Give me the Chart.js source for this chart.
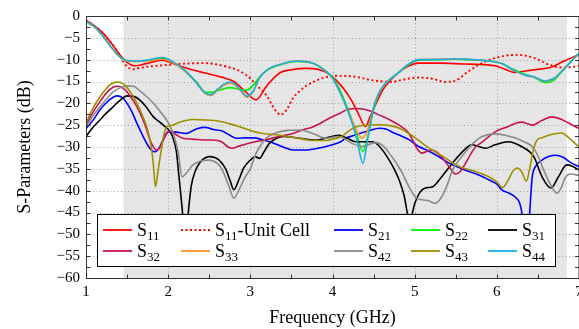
<!DOCTYPE html>
<html><head><meta charset="utf-8">
<script src="https://cdn.jsdelivr.net/npm/chart.js@4.4.0/dist/chart.umd.min.js"></script>
<style>html,body{margin:0;padding:0;background:#fff}canvas{display:block}</style>
</head><body>
<canvas id="c" width="579" height="329"></canvas>
<script>
/* ---------- data (frequency GHz, dB) ---------- */
const s11 = [[1.0,-1.0],[1.1,-2.2],[1.2,-3.8],[1.3,-6.0],[1.4,-8.6],[1.5,-10.6],[1.6,-11.4],[1.73,-10.9],[1.93,-10.1],[2.05,-10.8],[2.2,-11.8],[2.35,-12.6],[2.5,-13.3],[2.65,-14.0],[2.8,-15.0],[2.95,-17.5],[3.07,-19.2],[3.2,-16.0],[3.36,-13.0],[3.5,-12.3],[3.68,-12.0],[3.84,-12.3],[3.95,-13.2],[4.05,-14.8],[4.15,-17.0],[4.24,-19.6],[4.33,-23.0],[4.4,-25.3],[4.46,-23.0],[4.52,-20.5],[4.61,-17.0],[4.7,-14.8],[4.8,-13.0],[4.92,-11.5],[5.05,-10.8],[5.3,-10.8],[5.6,-11.0],[5.8,-11.1],[6.0,-11.5],[6.1,-12.2],[6.22,-12.9],[6.35,-12.6],[6.5,-12.2],[6.65,-11.8],[6.8,-10.5],[7.0,-8.8]];
const s11Unit = [[1.0,-1.0],[1.2,-3.8],[1.4,-8.6],[1.48,-11.2],[1.57,-12.2],[1.65,-11.9],[1.8,-11.5],[2.0,-11.2],[2.2,-10.9],[2.45,-10.8],[2.62,-11.2],[2.75,-11.8],[2.87,-12.6],[3.0,-14.3],[3.1,-16.3],[3.2,-18.3],[3.3,-21.5],[3.37,-22.6],[3.44,-21.5],[3.52,-18.8],[3.6,-17.2],[3.68,-16.0],[3.8,-14.8],[3.9,-14.1],[4.04,-13.7],[4.28,-13.9],[4.45,-14.6],[4.61,-15.0],[4.72,-15.1],[4.85,-14.6],[5.05,-14.1],[5.2,-14.3],[5.38,-15.1],[5.5,-14.8],[5.66,-12.6],[5.8,-11.0],[5.95,-9.8],[6.1,-9.1],[6.25,-8.9],[6.4,-9.3],[6.5,-10.0],[6.63,-11.1],[6.78,-11.8],[6.9,-11.7],[7.0,-11.4]];
const s21 = [[1.0,-25.8],[1.1,-23.5],[1.17,-21.5],[1.25,-19.8],[1.33,-18.6],[1.38,-18.3],[1.45,-18.8],[1.5,-20.0],[1.56,-22.0],[1.62,-24.6],[1.68,-27.0],[1.74,-29.2],[1.8,-30.8],[1.84,-31.1],[1.9,-29.9],[1.95,-27.8],[2.0,-26.5],[2.1,-26.6],[2.22,-26.9],[2.35,-25.8],[2.45,-25.5],[2.55,-26.0],[2.65,-26.3],[2.75,-27.3],[2.83,-28.0],[2.95,-27.9],[3.05,-27.9],[3.15,-28.4],[3.27,-29.0],[3.4,-30.0],[3.52,-30.7],[3.65,-30.7],[3.76,-30.5],[3.9,-30.0],[4.0,-29.5],[4.1,-28.8],[4.16,-28.0],[4.25,-27.4],[4.33,-26.9],[4.45,-26.2],[4.57,-25.7],[4.65,-25.9],[4.75,-26.8],[4.85,-27.6],[4.93,-28.3],[5.05,-29.9],[5.17,-30.9],[5.3,-32.3],[5.42,-33.7],[5.55,-34.8],[5.66,-35.6],[5.78,-36.4],[5.9,-37.5],[6.0,-38.5],[6.06,-39.8],[6.15,-40.6],[6.22,-41.4],[6.28,-43.0],[6.32,-47.0],[6.36,-56.0],[6.4,-45.0],[6.43,-37.0],[6.47,-34.5],[6.55,-33.0],[6.63,-32.2],[6.72,-31.9],[6.8,-32.3],[6.91,-33.7],[7.0,-34.5]];
const s22 = [[1.0,-1.3],[1.1,-2.5],[1.2,-4.5],[1.3,-7.0],[1.4,-9.2],[1.5,-10.3],[1.6,-10.4],[1.75,-10.2],[1.93,-9.6],[2.05,-10.5],[2.2,-12.5],[2.34,-15.0],[2.46,-17.5],[2.55,-17.4],[2.65,-16.8],[2.76,-16.4],[2.86,-16.8],[2.95,-17.0],[3.03,-16.0],[3.11,-14.0],[3.2,-12.5],[3.36,-11.2],[3.56,-10.4],[3.76,-10.8],[3.92,-12.6],[4.0,-14.0],[4.08,-16.5],[4.16,-20.0],[4.24,-24.0],[4.3,-27.5],[4.37,-31.0],[4.43,-27.5],[4.5,-21.5],[4.56,-18.0],[4.62,-16.0],[4.7,-14.5],[4.8,-13.0],[4.9,-11.5],[5.05,-10.1],[5.25,-10.0],[5.5,-9.9],[5.7,-10.1],[5.9,-10.3],[6.06,-10.9],[6.2,-12.2],[6.35,-13.4],[6.45,-14.0],[6.6,-15.3],[6.7,-14.6],[6.8,-12.5],[6.9,-10.5],[7.0,-8.5]];
const s31 = [[1.0,-27.6],[1.08,-25.6],[1.17,-23.8],[1.25,-22.2],[1.33,-20.8],[1.42,-19.2],[1.5,-18.3],[1.58,-18.4],[1.66,-19.3],[1.74,-21.0],[1.82,-23.1],[1.89,-24.2],[1.94,-25.0],[2.0,-26.0],[2.05,-27.5],[2.1,-31.0],[2.13,-36.5],[2.17,-44.0],[2.21,-52.0],[2.25,-44.0],[2.28,-39.0],[2.33,-35.5],[2.38,-33.7],[2.5,-32.2],[2.62,-33.0],[2.7,-35.0],[2.75,-37.5],[2.8,-39.8],[2.86,-37.5],[2.92,-34.8],[3.0,-33.0],[3.06,-32.2],[3.11,-32.6],[3.17,-31.0],[3.23,-29.2],[3.32,-28.0],[3.4,-27.6],[3.6,-28.0],[3.8,-28.4],[3.95,-27.8],[4.08,-27.3],[4.18,-28.0],[4.28,-28.8],[4.4,-28.8],[4.49,-28.8],[4.6,-30.5],[4.69,-33.0],[4.75,-35.0],[4.81,-37.5],[4.87,-41.0],[4.94,-47.0],[5.0,-43.0],[5.06,-40.5],[5.13,-39.4],[5.22,-39.1],[5.33,-36.8],[5.46,-33.7],[5.58,-31.1],[5.7,-29.5],[5.86,-30.3],[5.98,-29.5],[6.14,-28.8],[6.3,-29.9],[6.45,-32.2],[6.55,-36.8],[6.66,-39.4],[6.75,-36.8],[6.85,-34.1],[6.92,-34.4],[7.0,-35.3]];
const s32 = [[1.0,-25.0],[1.08,-22.2],[1.17,-19.6],[1.25,-17.6],[1.33,-16.3],[1.39,-16.1],[1.45,-16.5],[1.5,-17.4],[1.58,-19.5],[1.66,-22.3],[1.72,-25.0],[1.78,-28.4],[1.84,-30.5],[1.87,-30.7],[1.92,-29.3],[1.97,-27.3],[2.02,-26.4],[2.1,-27.2],[2.18,-28.0],[2.3,-28.2],[2.42,-28.4],[2.55,-28.4],[2.65,-28.8],[2.73,-30.0],[2.78,-30.3],[2.86,-29.8],[2.95,-29.3],[3.06,-28.8],[3.2,-28.3],[3.35,-27.6],[3.52,-26.9],[3.65,-26.0],[3.76,-25.4],[3.86,-24.5],[3.96,-23.4],[4.08,-22.4],[4.2,-21.3],[4.3,-21.2],[4.45,-21.7],[4.57,-22.7],[4.7,-23.8],[4.81,-25.0],[4.92,-26.6],[4.97,-28.2],[5.03,-30.4],[5.09,-31.4],[5.2,-30.7],[5.27,-31.2],[5.35,-32.8],[5.43,-34.8],[5.5,-36.2],[5.56,-35.5],[5.62,-33.7],[5.68,-31.7],[5.74,-30.0],[5.82,-28.9],[5.9,-27.6],[6.0,-26.3],[6.14,-25.3],[6.24,-24.5],[6.3,-24.3],[6.38,-24.7],[6.43,-25.0],[6.55,-23.9],[6.67,-23.1],[6.8,-23.8],[6.95,-25.3],[7.0,-25.7]];
const s33 = [[1.0,-1.3],[1.1,-2.5],[1.2,-4.5],[1.3,-7.0],[1.4,-9.2],[1.5,-10.3],[1.6,-10.4],[1.75,-10.3],[1.93,-9.9],[2.05,-10.6],[2.2,-12.6],[2.34,-15.3],[2.45,-17.8],[2.52,-18.2],[2.6,-17.0],[2.68,-15.8],[2.76,-15.4],[2.85,-16.4],[2.96,-18.6],[3.04,-17.2],[3.11,-14.2],[3.2,-12.4],[3.36,-11.1],[3.56,-10.3],[3.76,-10.8],[3.92,-12.7],[4.0,-14.3],[4.08,-17.0],[4.16,-20.5],[4.24,-24.0],[4.3,-26.5],[4.36,-28.0],[4.42,-26.5],[4.5,-21.0],[4.56,-17.8],[4.62,-16.0],[4.7,-14.5],[4.8,-13.0],[4.9,-11.4],[5.05,-10.0],[5.25,-9.9],[5.5,-9.8],[5.7,-10.0],[5.9,-10.3],[6.06,-10.9],[6.2,-12.4],[6.35,-13.6],[6.45,-14.0],[6.6,-15.0],[6.7,-14.3],[6.8,-12.5],[6.9,-10.5],[7.0,-8.6]];
const s42 = [[1.0,-25.4],[1.08,-23.0],[1.17,-20.8],[1.25,-19.0],[1.33,-17.4],[1.42,-16.4],[1.5,-16.0],[1.58,-16.1],[1.66,-17.2],[1.74,-18.5],[1.82,-20.0],[1.9,-21.8],[1.98,-23.8],[2.03,-25.5],[2.07,-27.5],[2.12,-31.0],[2.17,-36.8],[2.22,-36.0],[2.3,-34.1],[2.4,-33.2],[2.5,-33.0],[2.6,-33.8],[2.66,-35.3],[2.73,-38.5],[2.8,-41.7],[2.87,-39.5],[2.94,-36.8],[3.0,-35.0],[3.07,-31.4],[3.13,-29.5],[3.19,-28.0],[3.32,-26.7],[3.45,-26.2],[3.6,-26.1],[3.76,-26.9],[3.92,-28.0],[4.08,-27.6],[4.24,-29.2],[4.36,-29.9],[4.53,-29.0],[4.62,-29.8],[4.69,-31.4],[4.77,-33.5],[4.85,-36.0],[4.93,-39.1],[5.01,-41.5],[5.09,-42.1],[5.17,-42.3],[5.25,-42.9],[5.33,-41.4],[5.4,-38.5],[5.46,-35.3],[5.54,-33.0],[5.62,-31.1],[5.72,-29.0],[5.82,-27.6],[5.98,-27.0],[6.1,-27.3],[6.22,-27.9],[6.33,-28.8],[6.43,-29.9],[6.5,-32.0],[6.57,-35.3],[6.65,-38.5],[6.73,-40.6],[6.78,-39.5],[6.83,-37.1],[6.9,-36.2],[7.0,-36.5]];
const s43 = [[1.0,-24.5],[1.08,-21.3],[1.17,-18.5],[1.23,-17.0],[1.29,-15.8],[1.35,-15.2],[1.4,-15.1],[1.45,-15.5],[1.5,-16.4],[1.56,-18.0],[1.62,-20.0],[1.68,-22.5],[1.74,-25.4],[1.79,-29.5],[1.82,-34.0],[1.845,-39.1],[1.88,-35.0],[1.91,-31.4],[1.95,-27.0],[1.98,-25.5],[2.05,-25.0],[2.13,-24.4],[2.2,-24.0],[2.3,-23.7],[2.45,-23.8],[2.62,-24.1],[2.75,-24.7],[2.86,-25.3],[3.0,-26.2],[3.15,-26.9],[3.36,-27.3],[3.56,-27.9],[3.76,-28.5],[3.92,-28.5],[4.05,-28.0],[4.12,-27.5],[4.2,-26.3],[4.28,-25.4],[4.4,-25.0],[4.57,-24.9],[4.7,-25.1],[4.8,-25.6],[4.93,-26.9],[5.05,-28.5],[5.15,-29.9],[5.25,-31.1],[5.38,-32.6],[5.5,-34.1],[5.62,-35.0],[5.74,-35.6],[5.9,-36.8],[6.0,-38.0],[6.07,-39.3],[6.14,-37.5],[6.2,-35.4],[6.25,-34.8],[6.3,-35.6],[6.36,-37.8],[6.4,-35.0],[6.44,-31.0],[6.49,-28.4],[6.56,-27.8],[6.63,-27.3],[6.72,-26.9],[6.79,-26.8],[6.87,-27.8],[6.97,-29.5],[7.0,-30.0]];
const s44 = [[1.0,-1.2],[1.1,-2.4],[1.2,-4.4],[1.3,-6.9],[1.4,-9.1],[1.5,-10.2],[1.6,-10.3],[1.75,-10.1],[1.93,-9.5],[2.05,-10.4],[2.2,-12.4],[2.34,-15.2],[2.45,-17.6],[2.52,-18.0],[2.6,-16.8],[2.68,-15.6],[2.76,-15.1],[2.85,-16.2],[2.96,-18.4],[3.04,-17.0],[3.11,-14.2],[3.2,-12.4],[3.36,-11.1],[3.56,-10.3],[3.76,-10.8],[3.92,-12.7],[4.0,-14.2],[4.08,-17.0],[4.16,-20.5],[4.24,-24.6],[4.3,-28.5],[4.37,-33.7],[4.43,-28.0],[4.5,-21.0],[4.56,-17.8],[4.62,-16.0],[4.7,-14.5],[4.8,-13.0],[4.9,-11.4],[5.05,-10.0],[5.25,-10.0],[5.5,-9.8],[5.7,-10.0],[5.9,-10.3],[6.06,-10.9],[6.2,-12.4],[6.35,-13.6],[6.45,-13.9],[6.59,-14.9],[6.7,-14.2],[6.8,-12.5],[6.9,-10.5],[7.0,-8.6]];

const labels = ['S11','S11-Unit Cell','S21','S22','S31','S32','S33','S42','S43','S44'];
const series = [s11,s11Unit,s21,s22,s31,s32,s33,s42,s43,s44];
const colors = ['#ff0000','#ff0000','#0000ff','#00f000','#000000','#c8124f','#ff9222','#8a8a8a','#9e8e00','#1aaee6'];
const dashed = [false,true,false,false,false,false,false,false,false,false];
const yTicks = [-60,-55,-50,-45,-40,-35,-30,-25,-20,-15,-10,-5,0];
const xTicks = [1,2,3,4,5,6,7];
const band = [1.456, 6.855];   // shaded frequency range

const FONT = '"Liberation Serif", "DejaVu Serif", serif';
Chart.defaults.font.family = FONT;
Chart.defaults.color = '#000';

/* ---------- background, grid, frame, legend ---------- */
const deco = {
  id:'deco',
  beforeDraw(ch){
    const {ctx,chartArea:a,scales:{x,y}} = ch;
    ctx.save();
    ctx.fillStyle='#fff'; ctx.fillRect(0,0,ch.width,ch.height);
    const b0=x.getPixelForValue(band[0]), b1=x.getPixelForValue(band[1]);
    ctx.fillStyle='#e5e5e5'; ctx.fillRect(b0,a.top,b1-b0,a.bottom-a.top);
    ctx.strokeStyle='#a2a2a2'; ctx.lineWidth=1; ctx.setLineDash([1,2.5]);
    yTicks.slice(1,-1).forEach(v=>{
      const p=Math.round(y.getPixelForValue(v))+0.5;
      ctx.beginPath(); ctx.moveTo(a.left,p); ctx.lineTo(a.right,p); ctx.stroke();
    });
    xTicks.slice(1,-1).forEach(v=>{
      const p=Math.round(x.getPixelForValue(v))+0.5;
      ctx.beginPath(); ctx.moveTo(p,a.top); ctx.lineTo(p,a.bottom); ctx.stroke();
    });
    ctx.restore();
  },
  afterDatasetsDraw(ch){
    const {ctx,chartArea:a,scales:{x,y}} = ch;
    ctx.save();
    ctx.strokeStyle='#333'; ctx.lineWidth=1;
    const L=Math.round(a.left)+0.5, T=Math.round(a.top)+0.5, R=a.right, B=Math.round(a.bottom)+0.5;
    ctx.strokeRect(L,T,R-L,B-T);
    ctx.beginPath();
    for(let v=-57.5; v<0; v+=2.5){
      const p=Math.round(y.getPixelForValue(v))+0.5;
      ctx.moveTo(L,p); ctx.lineTo(L+4,p); ctx.moveTo(R,p); ctx.lineTo(R-4,p);
    }
    for(let v=1.5; v<7; v+=0.5){
      const p=Math.round(x.getPixelForValue(v))+0.5;
      ctx.moveTo(p,B); ctx.lineTo(p,B-4); ctx.moveTo(p,T); ctx.lineTo(p,T+4);
    }
    ctx.stroke();

    /* legend */
    ctx.fillStyle='#fff'; ctx.fillRect(97,214,458,52);
    ctx.strokeStyle='#000'; ctx.strokeRect(97.5,214.5,458,52);
    const cols=[103,181,334,411,488], rows=[230,251];
    labels.forEach((lab,i)=>{
      const cx=cols[i%5], cy=rows[Math.floor(i/5)];
      ctx.strokeStyle=colors[i]; ctx.lineWidth=1.8;
      ctx.setLineDash(dashed[i]?[2,2.5]:[]);
      ctx.beginPath(); ctx.moveTo(cx,cy); ctx.lineTo(cx+29,cy); ctx.stroke();
      ctx.setLineDash([]);
      const m=lab.match(/^S(\d\d)(.*)$/);
      let tx=cx+34; const by=cy+6;
      ctx.fillStyle='#000'; ctx.textBaseline='alphabetic'; ctx.textAlign='left';
      ctx.font='18px '+FONT; ctx.fillText('S',tx,by); tx+=ctx.measureText('S').width;
      ctx.font='13px '+FONT; ctx.fillText(m[1],tx,by+4); tx+=ctx.measureText(m[1]).width;
      if(m[2]){ctx.font='18px '+FONT; ctx.fillText(m[2],tx,by);}
    });
    ctx.restore();
  }
};

/* ---------- chart ---------- */
new Chart(document.getElementById('c'),{
  type:'line',
  data:{datasets:series.map((s,i)=>({
    label:labels[i],
    data:s.map(([f,d])=>({x:f,y:d})),
    borderColor:colors[i],
    borderWidth:dashed[i]?1.9:1.6,
    borderDash:dashed[i]?[2,2.6]:[],
    pointRadius:0,
    cubicInterpolationMode:'monotone',
    fill:false,
    order:10-i
  }))},
  options:{
    responsive:false, animation:false, devicePixelRatio:1,
    layout:{padding:{left:0,right:-2,top:16,bottom:0}},
    plugins:{legend:{display:false},tooltip:{enabled:false}},
    scales:{
      x:{type:'linear',min:1,max:7,
        grid:{display:false,drawTicks:false},border:{display:false},
        ticks:{stepSize:1,padding:5,font:{size:15},maxRotation:0,autoSkip:false},
        title:{display:true,text:'Frequency (GHz)',font:{size:18},padding:{top:0,bottom:0}},
        afterFit(s){s.height=51;s.paddingLeft=0;s.paddingRight=0;}
      },
      y:{min:-60,max:0,
        grid:{display:false,drawTicks:false},border:{display:false},
        ticks:{stepSize:5,padding:6,font:{size:15},callback:v=>v<0?'\u2212'+Math.abs(v):''+v},
        title:{display:true,text:'S-Parameters (dB)',font:{size:18},padding:{top:14,bottom:0}},
        afterFit(s){s.width=86;s.paddingTop=0;s.paddingBottom=0;}
      }
    }
  },
  plugins:[deco]
});
</script>
</body></html>
